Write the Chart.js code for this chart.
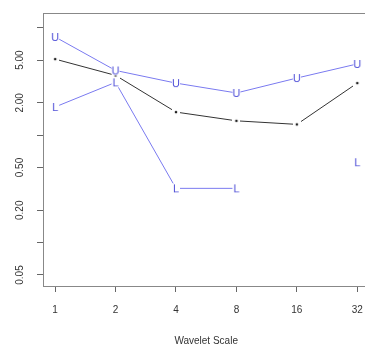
<!DOCTYPE html>
<html>
<head>
<meta charset="utf-8">
<script src="https://cdn.jsdelivr.net/npm/chart.js@4"></script>
<style>
  html, body { margin: 0; padding: 0; background: #fff; overflow: hidden; }
  #wrap { width: 375px; height: 347px; }
</style>
</head>
<body>
<div id="wrap"><canvas id="chartWavelet"></canvas></div>
<script>
// wavelet scales and the three curves
var scales = [1, 2, 4, 8, 16, 32];
var estimate = [5.1, 3.6, 1.64, 1.36, 1.26, 3.05];
var upper = [8.2, 4.0, 3.05, 2.47, 3.4, 4.6];
var lower = [1.83, 3.1, 0.32, 0.32, null, 0.56];

var yTicks = [0.05, 0.1, 0.2, 0.5, 1, 2, 5, 10];
var yLabels = ['0.05', '', '0.20', '0.50', '', '2.00', '5.00', ''];

var blueLine = '#7a7af0';
var blueText = '#4f4fd8';

function pairs(vals) {
    var out = [];
    for (var i = 0; i < scales.length; i++) {
        out.push({ x: scales[i], y: vals[i] });
    }
    return out;
}

// letter marker like pch="U" in R, white box gives the little gap in the line
function letterMarker(ch, color) {
    var c = document.createElement('canvas');
    c.width = 10;
    c.height = 12;
    var g = c.getContext('2d');
    g.fillStyle = '#fff';
    g.fillRect(1, 1, 8, 10);
    g.fillStyle = color;
    g.font = '11px "Liberation Sans", Arial, sans-serif';
    g.textAlign = 'center';
    g.textBaseline = 'middle';
    g.fillText(ch, 5, 6.5);
    return c;
}

function dotMarker() {
    var c = document.createElement('canvas');
    c.width = 8;
    c.height = 8;
    var g = c.getContext('2d');
    g.fillStyle = '#fff';
    g.fillRect(0, 0, 8, 8);
    g.fillStyle = '#222';
    g.beginPath();
    g.arc(4, 4, 1.3, 0, Math.PI * 2);
    g.fill();
    return c;
}

var boxPlugin = {
    id: 'box',
    afterDraw: function (chart) {
        var a = chart.chartArea;
        var ctx = chart.ctx;
        ctx.save();
        ctx.strokeStyle = '#888';
        ctx.lineWidth = 1;
        ctx.strokeRect(Math.round(a.left) + 0.5, Math.round(a.top) + 0.5,
            Math.round(a.right - a.left), Math.round(a.bottom - a.top));
        ctx.restore();
    }
};

var ctx = document.getElementById('chartWavelet').getContext('2d');
var myChart = new Chart(ctx, {
    type: 'line',
    data: {
        datasets: [
            {
                label: 'U',
                data: pairs(upper),
                borderColor: blueLine,
                borderWidth: 1,
                pointStyle: letterMarker('U', blueText),
                tension: 0
            },
            {
                label: 'L',
                data: pairs(lower),
                borderColor: blueLine,
                borderWidth: 1,
                pointStyle: letterMarker('L', blueText),
                spanGaps: false,
                tension: 0
            },
            {
                label: 'estimate',
                data: pairs(estimate),
                borderColor: '#333',
                borderWidth: 1,
                pointStyle: dotMarker(),
                tension: 0
            }
        ]
    },
    options: {
        responsive: true,
        maintainAspectRatio: false,
        animation: false,
        layout: { padding: { top: 13, right: 5, left: 0, bottom: 0 } },
        scales: {
            x: {
                type: 'logarithmic',
                min: 0.87,
                max: 36.76,
                afterBuildTicks: function (s) {
                    s.ticks = scales.map(function (v) { return { value: v }; });
                },
                afterFit: function (s) { s.height = 61; },
                grid: { drawOnChartArea: false, tickLength: 6, color: '#666' },
                border: { display: false },
                ticks: {
                    color: '#333',
                    padding: 12,
                    maxRotation: 0,
                    font: { family: '"Liberation Sans", Arial, sans-serif', size: 10 },
                    callback: function (v) { return String(v); }
                },
                title: {
                    display: true,
                    text: 'Wavelet Scale',
                    color: '#333',
                    padding: { top: 0, bottom: 0 },
                    font: { family: '"Liberation Sans", Arial, sans-serif', size: 10 }
                }
            },
            y: {
                type: 'logarithmic',
                min: 0.0395,
                max: 13.7,
                afterBuildTicks: function (s) {
                    s.ticks = yTicks.map(function (v) { return { value: v }; });
                },
                afterFit: function (s) { s.width = 43; },
                grid: { drawOnChartArea: false, tickLength: 6, color: '#666' },
                border: { display: false },
                ticks: {
                    color: '#333',
                    padding: 7,
                    crossAlign: 'center',
                    minRotation: 90,
                    maxRotation: 90,
                    font: { family: '"Liberation Sans", Arial, sans-serif', size: 10 },
                    callback: function (v, i) { return yLabels[i]; }
                }
            }
        },
        plugins: {
            legend: { display: false },
            tooltip: { enabled: false }
        }
    },
    plugins: [boxPlugin]
});
</script>
</body>
</html>
